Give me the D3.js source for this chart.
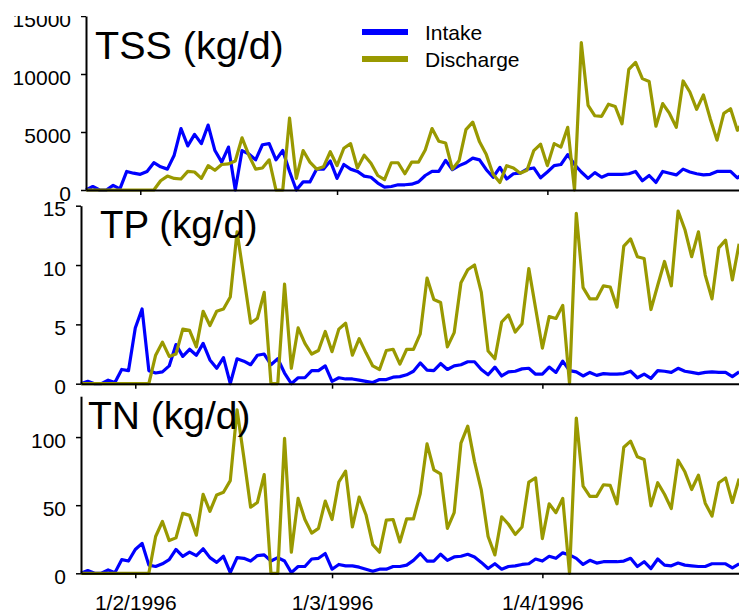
<!DOCTYPE html>
<html>
<head>
<meta charset="utf-8">
<script src="https://cdn.jsdelivr.net/npm/d3@7"></script>
<style>
  body { margin: 0; background: #fff; }
  svg { display: block; font-family: Arial, "Liberation Sans", sans-serif; }
</style>
</head>
<body>
<svg id="chart" width="739" height="614"></svg>
<script>
// daily loads, 24/1/1996 .. 30/4/1996
var startDate = "24/1/1996", endDate = "30/4/1996";
var tickLabels = ["1/2/1996", "1/3/1996", "1/4/1996"];
var seriesNames = ["Intake", "Discharge"];
var seriesColors = ["#0000ff", "#999900"];

var tssIntake = [0,300,0,0,400,100,1600,1450,1350,1600,2350,2000,1800,3000,5300,3800,4800,4000,5600,3400,
  2400,3700,0,3400,3100,2600,3900,4000,2600,3400,1600,0,700,700,1800,1800,2500,1000,2200,1800,
  1600,1200,1100,600,250,300,450,450,500,700,1250,1600,1600,2550,1750,2100,2350,2750,2600,1750,
  1100,1950,950,1400,1450,1800,1900,1050,1550,2100,2200,3050,2200,1550,1000,1500,1100,1350,1350,1350,
  1400,1600,800,1250,650,1600,1450,1300,1800,1550,1400,1300,1350,1600,1600,1600,1050,1450];
var tssDischarge = [0,0,0,0,0,0,0,0,0,0,0,800,1200,1000,950,1600,1550,1000,2100,1700,
  2200,2250,2500,4500,3000,1800,1900,2600,0,0,6200,1000,3400,2400,1800,2000,3300,2100,3600,4000,
  1900,3000,2300,1250,900,2350,2350,1400,2400,2400,3450,5300,4200,4050,1800,2550,5200,5850,4150,3050,
  1350,650,2100,1900,1450,1700,3400,3950,2100,4000,3700,5400,0,12700,7300,6400,6350,7400,7200,5700,
  10400,11000,9600,9350,5500,7450,6600,5400,9400,8450,6950,8200,6150,4300,6600,7000,5150,6000];

var tpIntake = [0,0.2,0,0,0.3,0.1,1.2,1.1,4.7,6.3,1.1,0.9,1.0,1.5,3.3,2.3,2.9,2.4,3.4,2.0,
  1.3,2.2,0,2.1,1.9,1.6,2.4,2.5,1.6,2.1,0.9,0,0.5,0.5,1.1,1.1,1.5,0.2,0.5,0.4,
  0.4,0.3,0.2,0.1,0.35,0.35,0.55,0.6,0.75,1.05,1.75,1.15,1.1,1.7,1.2,1.5,1.6,1.85,1.85,1.2,
  0.75,1.4,0.65,1.0,1.05,1.25,1.3,0.8,0.8,1.4,0.95,1.9,1.1,1.0,0.65,0.95,0.7,0.85,0.8,0.8,
  0.85,1.05,0.5,0.8,0.45,1.1,1.05,0.95,1.3,1.05,0.95,0.85,0.95,1.0,0.95,0.95,0.6,1.0];
var tpDischarge = [0,0,0,0,0,0,0,0,0,0,0,2.4,3.5,2.3,2.5,4.6,4.5,3.1,6.1,4.9,
  6.1,6.3,7.3,12.8,9.0,5.1,5.5,7.7,0,0,8.4,1.3,4.7,3.4,2.5,2.8,4.4,2.7,4.6,5.1,
  2.4,3.8,2.6,1.5,1.2,2.8,2.9,1.65,2.9,2.9,4.2,8.9,7.1,6.85,3.1,4.3,8.5,9.6,10.0,7.7,
  2.75,2.1,5.2,5.8,4.35,5.05,9.7,6.35,3.0,5.65,5.5,6.6,0,14.35,8.1,7.15,7.15,8.25,8.15,6.45,
  11.6,12.2,10.7,10.55,6.25,8.3,10.3,8.25,14.55,13.0,10.7,12.8,9.15,7.15,11.45,12.1,8.75,11.8];

var tnIntake = [0,2,0,0,2.5,0.5,10,9,17.5,22,6,5,7,10,17.5,12.5,15.5,13,18,11.5,
  8,12.5,0.5,11.5,11,9,13,13.5,9,11.5,9,0.5,5,5,10.5,11,14.5,3,6.5,5.5,
  5.5,4.5,3,1.5,3,3,5,5,6,9.5,14.5,9,9,14,9.5,12,12.5,14,12,8,
  3.5,7,3,5,5.5,6.5,7,10.5,9,12.5,11,15,13.5,11,6.5,9.5,7.5,8.5,8.5,8.5,
  9,11,5,8.5,3.5,10.5,6,5.5,7.5,6,5.5,5,5,7,7,7,4,7];
var tnDischarge = [0,0,0,0,0,0,0,0,0,0,0,27,38,24,26,44,42.5,28,58,45.5,
  57.5,59.5,68,120,85,48.5,52,72.5,0,0,99,15.5,55,39.5,29.5,33,53,39.5,67,75,
  34,56,43,21,15.5,39,39.5,23,40,40,58.5,95,76,73,33,44.5,95.5,108,82,61,
  27,13.5,41.5,36,28.5,34,67,70,25.5,51,44.5,55,0,114,64,56.5,56.5,65,64.5,51,
  92.5,97,85.5,83.5,49.5,66.5,58,47.5,83,74.5,61.5,72,51.5,42,66.5,70,52,69.5];

var parseDate = d3.timeParse("%d/%m/%Y");
var days = d3.timeDay.range(parseDate(startDate), d3.timeDay.offset(parseDate(endDate), 1));
var tickDates = tickLabels.map(function(t) { return parseDate(t); });
var dayWidth = 6.785;

var panels = [
  {title: "TSS (kg/d)", series: [tssIntake, tssDischarge], yMax: 15000, ticks: [0, 5000, 10000, 15000],
   left: 86, zeroY: 190, topY: 16, clipTop: 16, titleX: 95, titleY: 59, titleSize: 39.5, dates: false},
  {title: "TP (kg/d)", series: [tpIntake, tpDischarge], yMax: 15, ticks: [0, 5, 10, 15],
   left: 81, zeroY: 383.7, topY: 205.7, clipTop: 196, titleX: 100, titleY: 238, titleSize: 38.5, dates: false},
  {title: "TN (kg/d)", series: [tnIntake, tnDischarge], yMax: 130, ticks: [0, 50, 100],
   left: 81, zeroY: 573.3, topY: 396.2, clipTop: 393, titleX: 88, titleY: 429, titleSize: 39, dates: true}
];

var svg = d3.select("#chart");
var defs = svg.append("defs");

panels.forEach(function(p, k) {
  defs.append("clipPath").attr("id", "clip" + k)
    .append("rect")
      .attr("x", 0).attr("y", p.clipTop)
      .attr("width", 739).attr("height", 614 - p.clipTop);

  var g = svg.append("g").attr("clip-path", "url(#clip" + k + ")");

  var x = d3.scaleTime()
    .domain([days[0], days[days.length - 1]])
    .range([p.left, p.left + dayWidth * (days.length - 1)]);
  var y = d3.scaleLinear()
    .domain([0, p.yMax])
    .range([p.zeroY, p.topY]);

  var line = d3.line()
    .x(function(d, i) { return x(days[i]); })
    .y(function(d) { return y(d); });

  // lines
  p.series.forEach(function(vals, s) {
    g.append("path")
      .attr("d", line(vals))
      .attr("fill", "none")
      .attr("stroke", seriesColors[s])
      .attr("stroke-width", 3.2)
      .attr("stroke-linejoin", "round");
  });

  // y axis
  var ya = g.append("g")
    .attr("transform", "translate(" + p.left + ",0)")
    .call(d3.axisLeft(y).tickValues(p.ticks).tickSize(5).tickSizeOuter(0).tickPadding(10)
      .tickFormat(d3.format("d")));
  ya.selectAll(".tick text").attr("dy", "0.49em");

  // x axis
  var xa = g.append("g")
    .attr("transform", "translate(0," + p.zeroY + ")")
    .call(d3.axisBottom(x).tickValues(tickDates).tickSize(5).tickSizeOuter(0).tickPadding(17)
      .tickFormat(function(d, i) { return p.dates ? tickLabels[i] : ""; }));

  [ya, xa].forEach(function(a) {
    a.select(".domain").attr("stroke", "#000").attr("stroke-width", 2);
    a.selectAll(".tick line").attr("stroke", "#000").attr("stroke-width", 1.5);
    a.selectAll(".tick text").attr("fill", "#000").style("font-size", "21px")
      .style("font-family", "Arial, 'Liberation Sans', sans-serif");
  });

  // panel title
  g.append("text")
    .attr("x", p.titleX)
    .attr("y", p.titleY)
    .style("font-size", p.titleSize + "px")
    .text(p.title);
});

// legend
var legend = svg.append("g");
seriesNames.forEach(function(name, s) {
  var ly = 32 + s * 27;
  legend.append("line")
    .attr("x1", 362).attr("x2", 408)
    .attr("y1", ly).attr("y2", ly)
    .attr("stroke", seriesColors[s])
    .attr("stroke-width", 6);
  legend.append("text")
    .attr("x", 425)
    .attr("y", ly + 7.5)
    .style("font-size", "21px")
    .text(name);
});
</script>
</body>
</html>
